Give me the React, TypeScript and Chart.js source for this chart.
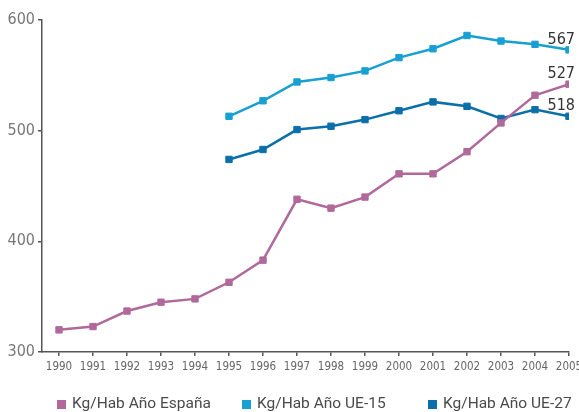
import React, { useEffect, useRef } from 'react';
import { Chart, registerables } from 'chart.js';

Chart.register(...registerables);

const years = [1990, 1991, 1992, 1993, 1994, 1995, 1996, 1997, 1998, 1999, 2000, 2001, 2002, 2003, 2004, 2005];
const espana = [320, 323, 337, 345, 348, 363, 383, 438, 430, 440, 461, 461, 481, 507, 532, 542];
const ue15 = [null, null, null, null, null, 513, 527, 544, 548, 554, 566, 574, 586, 581, 578, 573];
const ue27 = [null, null, null, null, null, 474, 483, 501, 504, 510, 518, 526, 522, 511, 519, 513];
const seriesLabels = ['Kg/Hab Año España', 'Kg/Hab Año UE-15', 'Kg/Hab Año UE-27'];
const endLabels = ['527', '567', '518'];
const yTicks = [300, 400, 500, 600];

const COLORS = ['#b0699a', '#18a0d2', '#0b6fa9'];
const NARROW = "'Liberation Sans Narrow', 'DejaVu Sans Condensed', 'Roboto', sans-serif";
const LEGEND_X = [57, 242, 428];
const LEGEND_Y = 404.5;

const toPoints = (arr: (number | null)[]) => years.map((yr, i) => ({ x: yr, y: arr[i] }));

const endLabelPlugin = {
  id: 'endLabels',
  afterDatasetsDraw(chart: any) {
    const ctx = chart.ctx;
    ctx.save();
    ctx.font = `16px ${NARROW}`;
    ctx.fillStyle = '#333333';
    ctx.textAlign = 'right';
    ctx.textBaseline = 'middle';
    chart.data.datasets.forEach((_ds: any, i: number) => {
      const meta = chart.getDatasetMeta(i);
      const pt = meta.data[meta.data.length - 1];
      if (!pt) return;
      ctx.fillText(endLabels[i], pt.x + 6, pt.y - 10);
    });
    ctx.restore();
  },
};

const legendPlugin = {
  id: 'customLegend',
  afterDraw(chart: any) {
    const ctx = chart.ctx;
    ctx.save();
    chart.data.datasets.forEach((ds: any, i: number) => {
      const x = LEGEND_X[i];
      ctx.fillStyle = ds.borderColor;
      ctx.fillRect(x, LEGEND_Y - 4.5, 9, 9);
      ctx.font = '15.5px Roboto, sans-serif';
      ctx.fillStyle = '#4a4a4a';
      ctx.textAlign = 'left';
      ctx.textBaseline = 'middle';
      ctx.fillText(ds.label, x + 15, LEGEND_Y);
    });
    ctx.restore();
  },
};

export default function App() {
  const ref = useRef<HTMLCanvasElement | null>(null);

  useEffect(() => {
    if (!ref.current) return;
    const series = [espana, ue15, ue27];
    const chart = new Chart(ref.current, {
      type: 'line',
      data: {
        datasets: series.map((arr, i) => ({
          label: seriesLabels[i],
          data: toPoints(arr),
          borderColor: COLORS[i],
          backgroundColor: COLORS[i],
          borderWidth: 2.5,
          pointStyle: 'rect',
          pointRadius: 4.5,
          pointBorderWidth: 1,
          pointBorderColor: COLORS[i],
          pointBackgroundColor: COLORS[i],
          tension: 0,
          fill: false,
          spanGaps: false,
        })),
      },
      options: {
        animation: false,
        responsive: true,
        maintainAspectRatio: false,
        layout: { padding: { top: 20, right: 10, left: 0, bottom: 0 } },
        plugins: {
          legend: { display: false },
          tooltip: { enabled: false },
        },
        scales: {
          x: {
            type: 'linear',
            min: 1989.5,
            max: 2005,
            afterBuildTicks: (scale: any) => {
              scale.ticks = years.map((v) => ({ value: v }));
            },
            afterFit: (scale: any) => {
              scale.height = 60;
              scale.paddingLeft = 0;
              scale.paddingRight = 0;
            },
            border: { display: true, color: '#555555', width: 1.5 },
            grid: { drawOnChartArea: false, drawTicks: true, tickLength: 4, color: '#555555', lineWidth: 1.5 },
            ticks: {
              autoSkip: false,
              maxRotation: 0,
              padding: 4,
              color: '#666666',
              font: { family: NARROW, size: 11.5 },
              callback: (v: any) => String(v),
            },
          },
          y: {
            type: 'linear',
            min: 300,
            max: 600,
            afterBuildTicks: (scale: any) => {
              scale.ticks = yTicks.map((v) => ({ value: v }));
            },
            afterFit: (scale: any) => {
              scale.width = 42;
            },
            border: { display: true, color: '#555555', width: 1.5 },
            grid: { drawOnChartArea: false, drawTicks: true, tickLength: 4, color: '#555555', lineWidth: 1.5 },
            ticks: {
              padding: 3,
              color: '#777777',
              font: { family: NARROW, size: 16 },
              callback: (v: any) => String(v),
            },
          },
        },
      },
      plugins: [endLabelPlugin, legendPlugin],
    } as any);
    return () => chart.destroy();
  }, []);

  return (
    <div style={{ position: 'fixed', left: 0, top: 0, width: 579, height: 412, background: '#fff' }}>
      <canvas ref={ref} />
    </div>
  );
}
